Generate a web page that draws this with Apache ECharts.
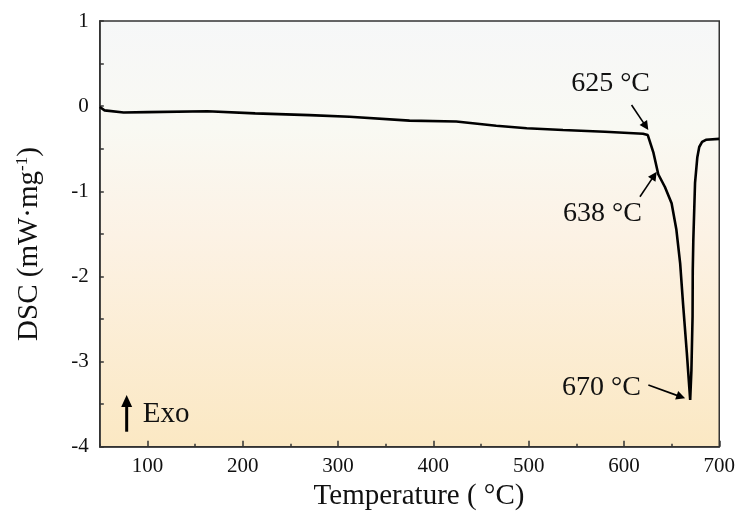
<!DOCTYPE html>
<html><head><meta charset="utf-8">
<script src="https://cdn.jsdelivr.net/npm/echarts@6/dist/echarts.min.js"></script>
<style>html,body{margin:0;padding:0;background:#fff}#c{width:738px;height:521px}</style>
</head><body><div id="c"></div>
<script>
// ---- data ----
const temperature = [50, 55, 75, 100, 163, 213, 270, 312, 375, 424, 466, 498, 536, 580, 620, 625, 631, 636, 643, 650, 655, 659, 662, 666, 669.5, 670.8, 672, 672.2, 672.8, 674.6, 677, 679, 682, 686, 700];
const dsc =         [-0.01, -0.05, -0.075, -0.07, -0.06, -0.085, -0.105, -0.125, -0.17, -0.18, -0.23, -0.26, -0.28, -0.30, -0.325, -0.34, -0.55, -0.80, -0.95, -1.14, -1.45, -1.85, -2.32, -2.9, -3.45, -3.1, -2.47, -1.93, -1.57, -0.9, -0.6, -0.48, -0.42, -0.395, -0.385];
const xMajorTicks = [100, 200, 300, 400, 500, 600, 700];
const yTickLabels = [-4, -3, -2, -1, 0, 1];
const annotationLabels = ['625 °C', '638 °C', '670 °C'];
const annotationTargets = [[625.6, -0.281], [634.4, -0.770], [664.2, -3.432]];

// ---- layout of annotation texts / arrow tails (data coords) ----
const annotationTextAt = [[586, 0.26], [577.5, -1.265], [576.4, -3.31]];
const annotationTailAt = [[608, 0.013], [616.8, -1.064], [625.6, -3.276]];

const FONT = '"Liberation Serif", "DejaVu Serif", serif';
const chart = echarts.init(document.getElementById('c'), null, {renderer: 'canvas'});

const option = {
  animation: false,
  grid: {
    left: 99.8, right: 18, top: 21, bottom: 74.3,
    show: true, borderColor: '#333', borderWidth: 1.5,
    backgroundColor: {
      type: 'linear', x: 0, y: 0, x2: 0, y2: 1,
      colorStops: [
        {offset: 0, color: '#f6f7f8'},
        {offset: 0.25, color: '#f9f9f3'},
        {offset: 0.5, color: '#fcf2e5'},
        {offset: 1, color: '#fbe8c3'}
      ]
    }
  },
  xAxis: [{
    type: 'value', min: 50, max: 700, interval: 50,
    axisLine: {show: true, onZero: false, lineStyle: {color: '#333', width: 1.5}},
    axisTick: {show: true, inside: true, length: 3, lineStyle: {color: '#333', width: 1.5}},
    axisLabel: {customValues: xMajorTicks, color: '#111', fontFamily: FONT, fontSize: 21, margin: 9},
    splitLine: {show: false}
  }, {
    type: 'value', min: 50, max: 700, interval: 50, position: 'bottom',
    axisLine: {show: false, onZero: false},
    axisTick: {show: true, inside: true, length: 6, customValues: xMajorTicks, lineStyle: {color: '#333', width: 1.5}},
    axisLabel: {show: false},
    splitLine: {show: false}
  }],
  yAxis: {
    type: 'value', min: -4, max: 1, interval: 0.5,
    axisLine: {show: true, onZero: false, lineStyle: {color: '#333', width: 1.5}},
    axisTick: {show: true, inside: true, length: 4, lineStyle: {color: '#333', width: 1.5}},
    axisLabel: {
      color: '#111', fontFamily: FONT, fontSize: 21, margin: 11,
      formatter: v => (yTickLabels.indexOf(v) >= 0 ? String(v) : '')
    },
    splitLine: {show: false}
  },
  series: [{
    type: 'line', xAxisIndex: 0,
    data: temperature.map((t, i) => [t, dsc[i]]),
    showSymbol: false, smooth: false,
    lineStyle: {color: '#000', width: 2.6},
    z: 5
  }]
};
chart.setOption(option);

function arrow(p1, p2, w, headLen, headW) {
  const dx = p2[0] - p1[0], dy = p2[1] - p1[1];
  const L = Math.hypot(dx, dy), ux = dx / L, uy = dy / L;
  const bx = p2[0] - ux * headLen, by = p2[1] - uy * headLen;
  return [
    {type: 'line', shape: {x1: p1[0], y1: p1[1], x2: bx + ux, y2: by + uy}, style: {stroke: '#000', lineWidth: w}, z: 20},
    {type: 'polygon', shape: {points: [[p2[0], p2[1]], [bx - uy * headW, by + ux * headW], [bx + uy * headW, by - ux * headW]]}, style: {fill: '#000'}, z: 20}
  ];
}

const px = p => chart.convertToPixel({xAxisIndex: 0, yAxisIndex: 0}, p);
const g = [];
annotationLabels.forEach((lab, i) => {
  const c = px(annotationTextAt[i]);
  g.push({type: 'text', x: c[0], y: c[1], style: {text: lab, font: '28px ' + FONT, fill: '#111', align: 'center', verticalAlign: 'middle'}, z: 20});
  g.push(...arrow(px(annotationTailAt[i]), px(annotationTargets[i]), 1.6, 9, 4.5));
});
// Exo arrow and label
const exoBottom = px([78.2, -3.824]), exoTop = px([78.2, -3.393]);
g.push(...arrow(exoBottom, exoTop, 3, 12, 5.5));
g.push({type: 'text', x: exoTop[0] + 16, y: (exoTop[1] + exoBottom[1]) / 2 + 1, style: {text: 'Exo', font: '29px ' + FONT, fill: '#111', align: 'left', verticalAlign: 'middle'}, z: 20});
// axis titles
g.push({type: 'text', x: 419, y: 496, style: {text: 'Temperature ( °C)', font: '29px ' + FONT, fill: '#111', align: 'center', verticalAlign: 'middle'}, z: 20});
g.push({
  type: 'text', x: 29, y: 244, rotation: Math.PI / 2,
  style: {
    text: '{a|DSC (mW·mg}{s|-1}{a|)}', align: 'center', verticalAlign: 'middle',
    rich: {
      a: {fontFamily: FONT, fontSize: 29, fill: '#111', color: '#111'},
      s: {fontFamily: FONT, fontSize: 17, fill: '#111', color: '#111', verticalAlign: 'top', padding: [0, 0, 12, 0]}
    }
  }, z: 20
});
chart.setOption({graphic: g});
</script>
</body></html>
